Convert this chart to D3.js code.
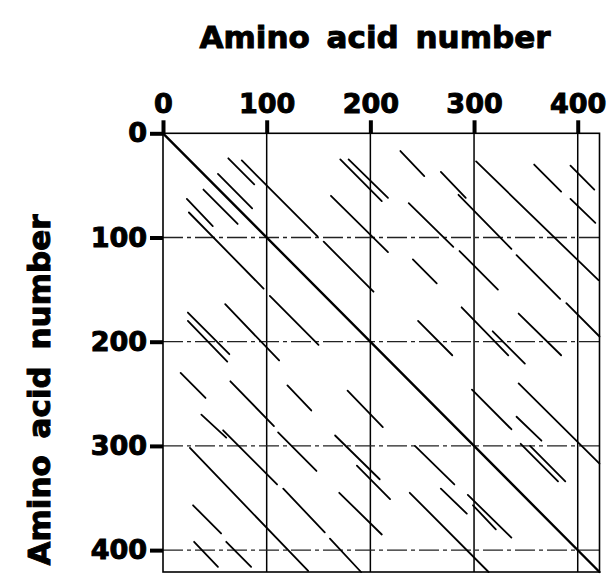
<!DOCTYPE html>
<html>
<head>
<meta charset="utf-8">
<script src="https://cdn.jsdelivr.net/npm/d3@7"></script>
<style>
  html, body { margin: 0; padding: 0; background: #fff; }
  svg { display: block; }
  text { font-family: "DejaVu Sans", "Liberation Sans", Arial, sans-serif; font-weight: bold; fill: #000; }
</style>
</head>
<body>
<svg id="chart" width="607" height="574"></svg>
<script>
// ---- data (amino acid numbers) ----
const seqLength = 421;
const xTickValues = [0, 100, 200, 300, 400];
const yTickValues = [0, 100, 200, 300, 400];
const xAxisTitle = "Amino acid number";
const yAxisTitle = "Amino acid number";

// identity diagonal
const mainDiagonal = [[0, 0, 421, 421]];

// segments above the diagonal: [x1, y1, x2, y2]
const upperSegments = [
  [63, 24, 88, 49],
  [76, 26, 149, 99],
  [155, 104, 203, 152],
  [53, 39, 86, 72],
  [171, 25, 211, 65],
  [179, 25, 217, 62],
  [162, 60, 217, 114],
  [229, 17, 252, 41],
  [268, 37, 292, 62],
  [237, 67, 280, 109],
  [285, 59, 336, 111],
  [302, 27, 420, 141],
  [358, 30, 384, 56],
  [393, 31, 416, 54],
  [393, 63, 417, 86],
  [241, 121, 264, 144],
  [286, 113, 323, 150],
  [341, 117, 383, 159],
  [389, 163, 421, 195],
  [288, 167, 333, 213],
  [246, 180, 279, 213],
  [318, 190, 349, 221],
  [343, 173, 384, 213],
  [298, 246, 336, 284],
  [341, 272, 365, 295],
  [343, 240, 421, 317],
  [345, 298, 381, 334],
  [354, 300, 388, 334]
];

// segments below the diagonal: [x1, y1, x2, y2]
const lowerSegments = [
  [23, 63, 48, 89],
  [25, 76, 97, 149],
  [103, 156, 150, 203],
  [39, 54, 72, 87],
  [24, 172, 64, 212],
  [24, 180, 62, 219],
  [60, 164, 112, 218],
  [17, 230, 41, 254],
  [65, 238, 107, 281],
  [37, 270, 61, 292],
  [58, 285, 110, 337],
  [26, 302, 140, 420],
  [29, 357, 56, 384],
  [30, 392, 53, 416],
  [61, 392, 85, 416],
  [120, 242, 143, 266],
  [178, 247, 212, 282],
  [111, 287, 148, 324],
  [166, 290, 209, 332],
  [187, 319, 219, 351],
  [116, 341, 156, 383],
  [170, 345, 211, 385],
  [161, 389, 191, 421],
  [243, 300, 281, 337],
  [268, 341, 293, 365],
  [238, 345, 314, 421],
  [294, 347, 336, 388],
  [299, 357, 321, 380]
];

// ---- layout ----
const svg = d3.select("#chart");
const plotLeft = 163, plotRight = 599.5, plotTop = 133.3, plotBottom = 572;

const x = d3.scaleLinear().domain([0, seqLength]).range([plotLeft, plotRight]);
const y = d3.scaleLinear().domain([0, seqLength]).range([plotTop, plotBottom]);

// vertical grid lines (solid)
svg.append("g")
  .selectAll("line")
  .data(xTickValues.filter(d => d > 0))
  .join("line")
  .attr("x1", d => x(d)).attr("x2", d => x(d))
  .attr("y1", y(0)).attr("y2", y(seqLength))
  .attr("stroke", "#000").attr("stroke-width", 1.5);

// horizontal grid lines (dash-dot)
svg.append("g")
  .selectAll("line")
  .data(yTickValues.filter(d => d > 0))
  .join("line")
  .attr("x1", x(0)).attr("x2", x(seqLength))
  .attr("y1", d => y(d)).attr("y2", d => y(d))
  .attr("stroke", "#222").attr("stroke-width", 1.3)
  .attr("stroke-dasharray", "20,4,4,4");

// frame
svg.append("rect")
  .attr("x", x(0)).attr("y", y(0))
  .attr("width", x(seqLength) - x(0)).attr("height", y(seqLength) - y(0))
  .attr("fill", "none").attr("stroke", "#000").attr("stroke-width", 1.6);

// segments
const segs = svg.append("g").attr("stroke", "#000").attr("stroke-linecap", "round");
segs.selectAll("line.seg")
  .data(upperSegments.concat(lowerSegments))
  .join("line")
  .attr("class", "seg")
  .attr("x1", d => x(d[0])).attr("y1", d => y(d[1]))
  .attr("x2", d => x(d[2])).attr("y2", d => y(d[3]))
  .attr("stroke-width", 1.8);
segs.selectAll("line.diag")
  .data(mainDiagonal)
  .join("line")
  .attr("class", "diag")
  .attr("x1", d => x(d[0])).attr("y1", d => y(d[1]))
  .attr("x2", d => x(d[2])).attr("y2", d => y(d[3]))
  .attr("stroke-width", 2.4);

// axes
const xAxis = d3.axisTop(x).tickValues(xTickValues).tickFormat(d3.format("d"))
  .tickSize(13).tickPadding(7).tickSizeOuter(0);
const gx = svg.append("g").attr("transform", `translate(0,${y(0)})`).call(xAxis);
gx.select(".domain").remove();
gx.selectAll(".tick line").attr("stroke", "#000").attr("stroke-width", 4);
gx.selectAll(".tick text").attr("font-size", 27).attr("font-weight", "bold")
  .attr("font-family", "DejaVu Sans").attr("fill", "#000")
  .attr("stroke", "#000").attr("stroke-width", 1);

const yAxis = d3.axisLeft(y).tickValues(yTickValues).tickFormat(d3.format("d"))
  .tickSize(13).tickPadding(3).tickSizeOuter(0);
const gy = svg.append("g").attr("transform", `translate(${x(0)},0)`).call(yAxis);
gy.select(".domain").remove();
gy.selectAll(".tick line").attr("stroke", "#000").attr("stroke-width", 4);
gy.selectAll(".tick text").attr("font-size", 27).attr("font-weight", "bold")
  .attr("font-family", "DejaVu Sans").attr("fill", "#000")
  .attr("stroke", "#000").attr("stroke-width", 1);

// titles
svg.append("text")
  .attr("x", 375).attr("y", 48)
  .attr("text-anchor", "middle")
  .attr("font-size", 31).attr("word-spacing", 6)
  .attr("stroke", "#000").attr("stroke-width", 1)
  .text(xAxisTitle);

svg.append("text")
  .attr("transform", "translate(50,390) rotate(-90)")
  .attr("text-anchor", "middle")
  .attr("font-size", 31).attr("word-spacing", 6)
  .attr("stroke", "#000").attr("stroke-width", 1)
  .text(yAxisTitle);
</script>
</body>
</html>
